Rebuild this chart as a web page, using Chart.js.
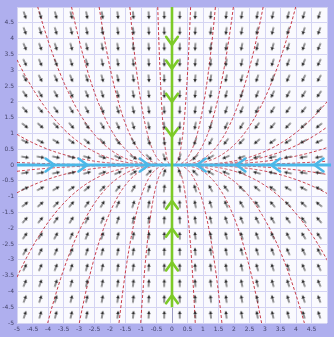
<!DOCTYPE html>
<html>
<head>
<meta charset="utf-8">
<script src="https://cdn.jsdelivr.net/npm/chart.js@4"></script>
<style>
  html, body { margin: 0; padding: 0; background: #ffffff; }
  #wrap { width: 334px; height: 343px; }
  canvas { display: block; }
</style>
</head>
<body>
<div id="wrap"><canvas id="plane"></canvas></div>
<script>
// Linear system:  x' = rateX * x,  y' = rateY * y  (stable node at the origin)
const rateX = -1;
const rateY = -3;

// Window and tick spacing
const axisMin = -5;
const axisMax = 5;
const tickStep = 0.5;

// Direction-field sample points (cell centres)
const sampleX = [-4.75, -4.25, -3.75, -3.25, -2.75, -2.25, -1.75, -1.25, -0.75, -0.25,
                 0.25, 0.75, 1.25, 1.75, 2.25, 2.75, 3.25, 3.75, 4.25, 4.75];
const sampleY = [-4.75, -4.25, -3.75, -3.25, -2.75, -2.25, -1.75, -1.25, -0.75, -0.25,
                 0.25, 0.75, 1.25, 1.75, 2.25, 2.75, 3.25, 3.75, 4.25, 4.75];

// Initial conditions of the plotted solution curves
const seedX = [-4.33, -3.24, -2.35, -1.36, -0.46, -5, -5, -5,
               0.6, 1.4, 1.98, 2.94, 3.99, 5, 5, 5, 5,
               -4.01, -2.99, -1.71, -1.01, -5, -5, -5,
               0.75, 1.61, 2.89, 4.27, 5, 5, 5];
const seedY = [5, 5, 5, 5, 5, 3.33, 0.97, 0.08,
               5, 5, 5, 5, 5, 2.0, 1.2, 0.55, 0.12,
               -5, -5, -5, -5, -3.55, -0.88, -0.2,
               -5, -5, -5, -5, -3.0, -0.9, -0.3];

// Arrowheads on the invariant axes
const xAxisHeads = [-3.79, -2.73, -0.75, 0.8, 2.08, 3.2, 4.6];
const yAxisHeads = [3.8, 3.05, 2.0, 0.9, -1.13, -2.01, -3.08, -4.12];

// ---------------------------------------------------------------
function solutionCurve(x0, y0) {
  const pts = [];
  for (let t = -4; t <= 9; t += 0.01) {
    const x = x0 * Math.exp(rateX * t);
    const y = y0 * Math.exp(rateY * t);
    if (Math.abs(x) <= 5.6 && Math.abs(y) <= 5.6) pts.push({ x, y });
  }
  return pts;
}

const curveSets = seedX.map((x0, i) => ({
  type: 'line',
  data: solutionCurve(x0, seedY[i]),
  borderColor: '#c83a48',
  borderWidth: 1,
  borderDash: [3, 2],
  pointRadius: 0,
  fill: false,
  tension: 0,
  order: 3
}));

// Small arrow glyph for the direction field
const glyph = document.createElement('canvas');
glyph.width = 12; glyph.height = 12;
(function () {
  const g = glyph.getContext('2d');
  g.strokeStyle = '#2a2a2a';
  g.fillStyle = '#2a2a2a';
  g.lineWidth = 1;
  g.beginPath(); g.moveTo(2.5, 6); g.lineTo(8, 6); g.stroke();
  g.beginPath(); g.moveTo(10.5, 6); g.lineTo(7, 4.2); g.lineTo(7, 7.8); g.closePath(); g.fill();
})();

const fieldPoints = [];
sampleY.forEach(y => sampleX.forEach(x => fieldPoints.push({ x, y })));

const fieldSet = {
  type: 'scatter',
  data: fieldPoints,
  pointStyle: glyph,
  pointRadius: 6,
  rotation: (ctx) => {
    const p = ctx.raw;
    if (!p) return 0;
    const sx = ctx.chart.scales.x, sy = ctx.chart.scales.y;
    const dx = sx.getPixelForValue(p.x + rateX * p.x * 0.01) - sx.getPixelForValue(p.x);
    const dy = sy.getPixelForValue(p.y + rateY * p.y * 0.01) - sy.getPixelForValue(p.y);
    return Math.atan2(dy, dx) * 180 / Math.PI;
  },
  order: 2
};

const xAxisLine = {
  type: 'line',
  data: [{ x: axisMin, y: 0 }, { x: 5.13, y: 0 }],
  borderColor: '#4cb8e8',
  borderWidth: 3,
  pointRadius: 0,
  clip: false,
  order: 1
};
const yAxisLine = {
  type: 'line',
  data: [{ x: 0, y: axisMax }, { x: 0, y: -4.5 }],
  borderColor: '#7cca28',
  borderWidth: 2.6,
  pointRadius: 0,
  order: 0
};

// Chevrons along the invariant axes, pointing toward the origin
const axisHeads = {
  id: 'axisHeads',
  afterDatasetsDraw(chart) {
    const { ctx, scales: { x: sx, y: sy } } = chart;
    const chevron = (px, py, ux, uy, color, L) => {
      const a = 36 * Math.PI / 180;
      ctx.save();
      ctx.strokeStyle = color;
      ctx.lineWidth = 2.6;
      ctx.lineCap = 'round';
      ctx.beginPath();
      for (const s of [-1, 1]) {
        const c = Math.cos(a), sn = Math.sin(a) * s;
        const bx = -(ux * c - uy * sn), by = -(ux * sn + uy * c);
        ctx.moveTo(px + bx * L, py + by * L);
        ctx.lineTo(px, py);
      }
      ctx.stroke();
      ctx.restore();
    };
    xAxisHeads.forEach(v => {
      chevron(sx.getPixelForValue(v), sy.getPixelForValue(0), v < 0 ? 1 : -1, 0, '#4cb8e8', 11);
    });
    yAxisHeads.forEach(v => {
      chevron(sx.getPixelForValue(0), sy.getPixelForValue(v), 0, v > 0 ? 1 : -1, '#7cca28', 10);
    });
  }
};

// Lavender frame behind the axes, white plotting area
const frame = {
  id: 'frame',
  beforeDraw(chart) {
    const { ctx, chartArea: a } = chart;
    ctx.save();
    ctx.fillStyle = '#ffffff';
    ctx.fillRect(0, 0, chart.width, chart.height);
    ctx.fillStyle = '#afafee';
    ctx.fillRect(0, 0, chart.width, 337);
    ctx.fillStyle = '#fafafe';
    ctx.fillRect(a.left, a.top, a.right - a.left, a.bottom - a.top);
    ctx.restore();
  }
};

const tickLabel = (v) => (Math.abs(v - axisMax) < 1e-9 ? '' : String(Math.round(v * 10) / 10));
const gridColor = (c) => (c.tick && c.tick.value === 0 ? '#9a9ac4' : '#d4d4f2');

new Chart(document.getElementById('plane'), {
  data: { datasets: [yAxisLine, xAxisLine, fieldSet, ...curveSets] },
  options: {
    responsive: true,
    maintainAspectRatio: false,
    animation: false,
    layout: { padding: { left: 0, right: 4, top: 5, bottom: 6 } },
    plugins: { legend: { display: false }, tooltip: { enabled: false } },
    scales: {
      x: {
        type: 'linear', min: axisMin, max: axisMax,
        border: { display: false },
        grid: { color: gridColor, drawTicks: false, lineWidth: 1 },
        ticks: {
          stepSize: tickStep, autoSkip: false, maxRotation: 0, padding: 3,
          font: { family: 'DejaVu Sans', size: 6 }, color: '#44446a',
          callback: tickLabel
        },
        afterFit(s) { s.height = 14; }
      },
      y: {
        type: 'linear', min: axisMin, max: axisMax,
        border: { display: false },
        grid: { color: gridColor, drawTicks: false, lineWidth: 1 },
        ticks: {
          stepSize: tickStep, autoSkip: false, padding: 3,
          font: { family: 'DejaVu Sans', size: 6 }, color: '#44446a',
          callback: tickLabel
        },
        afterFit(s) { s.width = 17; }
      }
    }
  },
  plugins: [frame, axisHeads]
});
</script>
</body>
</html>
